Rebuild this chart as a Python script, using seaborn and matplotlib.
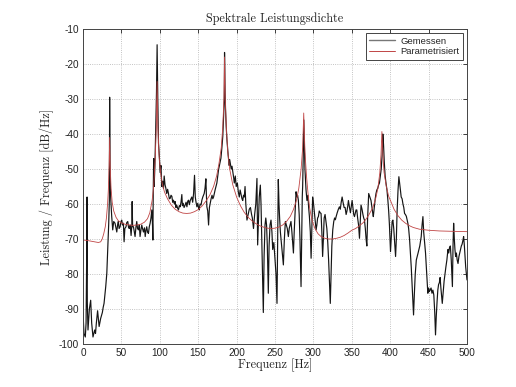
import matplotlib
matplotlib.use("Agg")
import matplotlib.pyplot as plt
from matplotlib.lines import Line2D
import seaborn as sns

# ---------------- data ----------------
freq_meas = [0, 1.3, 3, 4, 5, 5.3, 5.6, 6.5, 8.3, 10, 11.3, 13, 15.2, 16.3, 17.4, 19, 21, 23, 25.2, 26.3,
             27.4, 29.6, 31, 32.2, 33.5, 34.3, 34.7, 35.2, 36, 37.4, 38.7, 40, 41.7, 43, 44, 45, 46, 47, 48.3, 49.5,
             50.4, 51.5, 52.6, 53.5, 54.5, 56, 57, 58.3, 59.4, 60.4, 61.5, 62.6, 63.6, 64, 64.6, 65.7, 66.8, 67.8, 69, 70,
             71, 72.2, 73.3, 74.3, 75.4, 76.5, 77.5, 78.7, 80, 81, 82, 83, 84, 85.2, 86.3, 87.4, 88.5, 89.6, 90.5, 91,
             91.4, 92, 92.6, 93.5, 94.3, 95.7, 96.5, 97.4, 98.3, 99.3, 100.4, 101.5, 102.6, 103.8, 104.8, 105.7, 106.8, 107.8, 109, 110.2,
             111.3, 112.4, 113.5, 114.6, 115.7, 116.8, 117.8, 119, 120, 121, 122, 123.2, 124.3, 125.4, 126.5, 127.6, 128.7, 129.4, 130.5, 131.6,
             133, 134.2, 135.3, 136.4, 137.4, 138.5, 139.6, 140.6, 141.7, 142.8, 144, 145.2, 146.2, 147.2, 148.3, 149.4, 150.4, 151.3, 152.4, 153.7,
             154.8, 156, 157.8, 158.9, 160, 160.6, 161.3, 162.4, 163.5, 164.6, 165.7, 166.8, 168, 169, 170, 171, 172, 173.2, 174.3, 175.5,
             176.5, 177.6, 178.6, 179.6, 180.8, 182, 183, 184, 184.3, 185, 185.6, 186.5, 187.4, 188.2, 189, 190.4, 191, 192.2, 193, 194,
             195.2, 196.2, 197, 198.3, 199.5, 201, 202.2, 203.5, 204.6, 206, 207, 208, 209, 210, 211, 212, 213.5, 215, 216.5, 218,
             219.5, 220.5, 222, 223.5, 225, 226.5, 227, 227.4, 228.5, 229.5, 230.9, 231.8, 232.6, 233.7, 234.8, 235.8, 237, 238, 239, 240,
             241.3, 242.3, 243.5, 244.8, 246, 247, 248.5, 250, 251.3, 252.6, 253.5, 254.3, 255.2, 256, 257, 258.3, 259.5, 260.9, 262.2, 263.5,
             264.8, 266, 267.4, 268.5, 269.6, 270.8, 272, 273, 274, 275, 276.2, 277.4, 278.5, 279.4, 280.4, 281.5, 282.5, 283.9, 284.8, 285.5,
             286, 286.8, 287.5, 288.2, 289, 290.4, 291.6, 292.8, 293.8, 294.8, 296, 297, 297.8, 299, 300.2, 301.5, 302.5, 303.5, 304.5, 305.5,
             306.5, 307.6, 308.8, 310, 311, 312, 313, 314, 315.2, 316.3, 317.5, 318.7, 319.8, 320.8, 322, 323, 324, 325.2, 326.5, 327.6,
             328.6, 329.6, 331, 332.5, 333.9, 335, 336.2, 337.4, 338.6, 340, 341.3, 342.6, 343.7, 344.8, 345.6, 347, 348.2, 349.4, 350.4, 351.5,
             352.5, 353.5, 354.6, 355.5, 356.5, 357.6, 358.8, 360, 361, 362, 363.3, 364.5, 365.5, 366.5, 367.6, 368.6, 369.6, 370.6, 372, 373.5,
             375, 376.2, 377.2, 378, 379.3, 380.5, 381.5, 382.6, 383.8, 385, 386, 387.2, 388.3, 389.5, 390.4, 391.3, 392.3, 393.4, 394.5, 395.8,
             397, 398, 399, 400.4, 401.5, 402.5, 403.5, 404.6, 405.8, 407, 408, 409, 410.2, 411.3, 412.3, 413.3, 414.3, 415.5, 416.6, 417.7,
             418.7, 419.8, 421, 422, 423, 424, 425.2, 426.3, 427.4, 428.5, 429.5, 430.4, 431.4, 432.6, 434, 435.2, 436.3, 437.4, 438.5, 439.5,
             440.4, 441.5, 442.6, 443.6, 444.8, 446, 447, 448, 449, 450, 451, 452, 453.2, 454.4, 455.6, 456.8, 458, 459, 460, 461,
             462, 463, 464, 465, 466, 467.8, 469, 470.2, 471.3, 472.5, 473.8, 475.2, 476.2, 477.2, 478.3, 479.5, 481, 481.8, 482.6, 483.5,
             484.3, 485.2, 486.2, 487.2, 488.3, 489.5, 490.5, 491.5, 492.6, 493.6, 494.6, 495.6, 496.6, 497.5, 498.3, 499.2, 500]
psd_meas = [-91, -97, -98, -94, -70, -58, -88, -96, -90, -87.5, -94, -98, -96, -97, -94, -90.5, -95, -92.7, -91, -89.5,
            -88.4, -83.6, -79.8, -73, -65.5, -59, -29.5, -50, -58, -63.6, -67.4, -65, -65.5, -67, -68, -66, -65, -67, -66.5, -65,
            -64.6, -66, -65.5, -70.8, -67, -66.5, -65.3, -65, -66.8, -67, -66, -69, -66, -59.3, -66.5, -66.5, -68, -69.3, -66.5, -65,
            -67, -67.4, -66, -69.3, -67.5, -66, -67, -68, -66.8, -69.3, -67.5, -66.5, -68, -68.4, -66.5, -65.5, -64, -61.7, -66, -70.3,
            -58, -47, -55, -50, -42.6, -28, -14.5, -30, -42.6, -46, -51, -49, -55, -53.5, -55.5, -52, -54.5, -55.4, -57, -55.8,
            -57, -58.5, -58.4, -57.5, -57.8, -59.5, -58.9, -60, -59.3, -61, -60.3, -61.2, -61.7, -60.5, -60.8, -59.5, -57.3, -60.5, -59.8, -61,
            -60.3, -59.5, -60.8, -59.2, -58.9, -60.2, -59, -58.5, -58, -59.5, -57, -51.8, -58, -59.5, -60.8, -59.8, -61, -61.7, -60, -60.3,
            -58.9, -58, -57, -55.5, -52.8, -57, -60.8, -62, -66, -61, -59.8, -58.5, -57.5, -58.5, -58, -57, -56, -55, -54, -52,
            -50.2, -49, -48, -46.9, -44, -40.7, -35, -30, -16.7, -28, -33, -38, -41.6, -44, -46, -49, -47.3, -49, -50, -49.2,
            -51, -52.5, -54, -52, -55, -54, -56.5, -58, -56, -57.5, -58.5, -59, -57.5, -58, -55, -60, -64.6, -63, -61.5, -61,
            -63, -64, -67, -63, -60, -52.7, -62, -71.7, -64, -58, -54.6, -60, -68, -78, -91, -75, -66, -64, -66, -72,
            -85.5, -72, -66, -64.6, -68, -73, -71, -76, -80, -88.4, -70, -53, -60, -64, -68, -71, -74, -77.4, -70, -65,
            -66, -67, -69.3, -67, -66, -65, -68, -71, -74, -68, -62, -56.5, -58, -57.5, -58.9, -63, -70, -83.6, -68, -58,
            -55, -46, -36, -42, -50, -56, -59, -57.5, -61, -63.6, -68, -75.5, -68, -58, -60, -63, -65, -67.4, -66, -64,
            -63.6, -62, -62.5, -62.7, -68, -75, -70, -64, -63, -65, -67, -71, -76, -82, -88.4, -80, -72, -67.4, -65, -64,
            -64.5, -63.6, -62.5, -61.5, -60.8, -61.5, -59.5, -58, -59.5, -61, -61, -63, -62, -60.5, -59, -61, -62.5, -60.5, -59, -61,
            -63, -63.6, -62.5, -61.7, -61.7, -64, -66, -69.8, -65, -60.3, -61.5, -63, -64, -64.6, -67, -70, -72, -64, -57, -58,
            -59, -61, -62.5, -63.6, -61, -58.5, -57, -56, -55.5, -54.5, -54, -52, -50, -46, -40, -43, -48, -52, -54, -56,
            -59, -62, -66, -73.6, -69, -65, -64.6, -67, -71, -75, -70, -62, -56, -52.2, -54, -56, -58, -58.5, -60, -61,
            -62.7, -63, -63.5, -64.5, -65.5, -67, -70, -74, -78, -83, -88, -91.7, -86, -80, -76, -75, -74, -73, -72, -70.5,
            -69.3, -66, -63.6, -68, -71, -74, -78, -82, -85.5, -84, -85, -84.6, -84, -85.5, -84.6, -86, -91, -97.4, -92, -88,
            -84.6, -83, -82.5, -81, -84, -88.4, -85, -82, -80, -78, -76, -73, -74, -72.5, -72, -76, -83.6, -72, -65.5, -70,
            -73, -75, -74, -76, -77, -75, -74, -73, -72, -71.5, -70.5, -69.3, -72, -75, -78, -80, -81.7]

freq_fit = [0, 5, 10, 15, 20, 23, 25, 27, 29, 30.5, 32, 33, 34, 34.7, 35.4, 36.5, 38, 40, 43, 46,
            50, 55, 60, 65, 70, 75, 80, 84, 87, 90, 92, 94, 95.5, 96.5, 97.5, 99, 101, 103, 106, 110,
            115, 120, 125, 130, 135, 140, 145, 150, 155, 160, 165, 170, 174, 177, 180, 182, 183.5, 184.3, 185.2, 186.8,
            188.5, 191, 195, 200, 205, 210, 215, 220, 225, 230, 235, 240, 245, 250, 255, 260, 265, 270, 274, 278,
            281, 284, 286, 287.4, 289, 291, 293, 295, 298, 302, 306, 310, 315, 320, 325, 330, 335, 340, 345, 350,
            355, 360, 365, 369, 373, 377.4, 381, 384, 386.5, 388, 389.2, 390.5, 392, 395, 398, 401.3, 405, 410, 415, 420,
            425, 430, 438, 450, 464, 480, 500]
psd_fit = [-70.3, -70.4, -70.6, -70.8, -71, -70.8, -70, -68.5, -66.5, -64, -60, -56, -49, -41, -49, -55.5, -59.5, -62, -63.8, -64.8,
           -65.4, -65.8, -66, -66.1, -66, -65.8, -65.2, -64.2, -62.5, -59, -55, -47, -38, -25, -38, -46, -51, -54, -56.5, -58.5,
           -60.3, -61.5, -62.2, -62.6, -62.7, -62.6, -62.2, -61.6, -60.6, -59.2, -57.5, -55, -52, -48.5, -44, -38, -30, -18, -30, -39,
           -45, -50, -54.5, -58, -60.5, -62.4, -63.8, -64.8, -65.6, -66.2, -66.6, -66.9, -67, -66.9, -66.6, -66, -65, -63.5, -61.6, -58.9,
           -55.5, -50, -44, -34, -45, -52, -57, -61, -64.5, -67, -68.5, -69.3, -69.8, -70, -70, -69.8, -69.5, -69, -68.3, -67.5,
           -67, -66.2, -65.3, -64.2, -62.8, -61, -58.5, -55.5, -51, -46, -39.3, -46, -51, -55, -57.8, -59.5, -61.5, -63.3, -64.6, -65.5,
           -66.2, -66.7, -67.2, -67.5, -67.7, -67.8, -67.9]

x_ticks = [0, 50, 100, 150, 200, 250, 300, 350, 400, 450, 500]
y_ticks = [-100, -90, -80, -70, -60, -50, -40, -30, -20, -10]
series_labels = ["Gemessen", "Parametrisiert"]
title_text = "Spektrale Leistungsdichte"
x_label = "Frequenz [Hz]"
y_label = "Leistung / Frequenz [dB/Hz]"

meas_color = '#151515'
fit_color = '#c04545'

# ---------------- style ----------------
sns.set_theme(style="white")
plt.rcParams['font.family'] = ['Liberation Sans', 'DejaVu Sans']
serif = ['cmr10', 'DejaVu Serif']

fig = plt.figure(figsize=(5.16, 3.87), dpi=100)
ax = fig.add_axes([83 / 516, 1 - 344 / 387, (467 - 83) / 516, (344 - 29) / 387])

sns.lineplot(x=freq_meas, y=psd_meas, ax=ax, color=meas_color, lw=0.85,
             sort=False, estimator=None, legend=False)
sns.lineplot(x=freq_fit, y=psd_fit, ax=ax, color=fit_color, lw=0.6,
             sort=False, estimator=None, legend=False)

ax.set_xlim(0, 500)
ax.set_ylim(-100, -10)
ax.set_xticks(x_ticks)
ax.set_yticks(y_ticks)
ax.set_xticklabels([str(t) for t in x_ticks])
ax.set_yticklabels([str(t) for t in y_ticks])
ax.tick_params(direction='in', length=3, width=0.6, top=True, right=True,
               labelsize=7.2, colors='#222222', pad=3)
for s in ax.spines.values():
    s.set_color('#444444')
    s.set_linewidth(0.7)
ax.grid(True, linestyle=':', color='#b0b0b0', linewidth=0.6)

ax.set_title(title_text, fontsize=8.8, family=serif, pad=5, color='#222222')
ax.set_xlabel(x_label, fontsize=8.8, family=serif, labelpad=0, color='#222222')
ax.set_ylabel(y_label, fontsize=8.8, family=serif, labelpad=3, color='#222222')

handles = [Line2D([], [], color='#777777', lw=1.0),
           Line2D([], [], color=fit_color, lw=0.7)]
leg = ax.legend(handles, series_labels, loc='upper right', fontsize=6.8, frameon=True, fancybox=False,
                framealpha=1, edgecolor='#444444', borderaxespad=0.45,
                handlelength=2.7, handletextpad=0.6, borderpad=0.35, labelspacing=0.2)
leg.get_frame().set_linewidth(0.7)

fig.savefig("out.png", dpi=100)
